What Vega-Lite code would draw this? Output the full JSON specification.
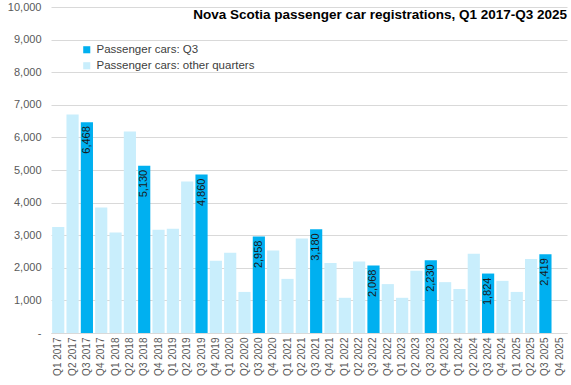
{
  "$schema": "https://vega.github.io/schema/vega-lite/v6.json",
  "width": 516,
  "height": 326,
  "autosize": "none",
  "padding": {"left": 51, "top": 7, "right": 4, "bottom": 52},
  "background": "white",
  "title": {
    "text": "Nova Scotia passenger car registrations, Q1 2017-Q3 2025",
    "anchor": "end",
    "frame": "group",
    "offset": -20,
    "font": "Liberation Sans",
    "fontSize": 13.5,
    "fontWeight": "bold",
    "color": "#000000"
  },
  "data": {
    "values": [
      {"quarter": "Q1 2017", "value": 3250, "series": "Passenger cars: other quarters"},
      {"quarter": "Q2 2017", "value": 6700, "series": "Passenger cars: other quarters"},
      {"quarter": "Q3 2017", "value": 6468, "series": "Passenger cars: Q3"},
      {"quarter": "Q4 2017", "value": 3850, "series": "Passenger cars: other quarters"},
      {"quarter": "Q1 2018", "value": 3080, "series": "Passenger cars: other quarters"},
      {"quarter": "Q2 2018", "value": 6180, "series": "Passenger cars: other quarters"},
      {"quarter": "Q3 2018", "value": 5130, "series": "Passenger cars: Q3"},
      {"quarter": "Q4 2018", "value": 3170, "series": "Passenger cars: other quarters"},
      {"quarter": "Q1 2019", "value": 3200, "series": "Passenger cars: other quarters"},
      {"quarter": "Q2 2019", "value": 4650, "series": "Passenger cars: other quarters"},
      {"quarter": "Q3 2019", "value": 4860, "series": "Passenger cars: Q3"},
      {"quarter": "Q4 2019", "value": 2220, "series": "Passenger cars: other quarters"},
      {"quarter": "Q1 2020", "value": 2460, "series": "Passenger cars: other quarters"},
      {"quarter": "Q2 2020", "value": 1260, "series": "Passenger cars: other quarters"},
      {"quarter": "Q3 2020", "value": 2958, "series": "Passenger cars: Q3"},
      {"quarter": "Q4 2020", "value": 2530, "series": "Passenger cars: other quarters"},
      {"quarter": "Q1 2021", "value": 1660, "series": "Passenger cars: other quarters"},
      {"quarter": "Q2 2021", "value": 2900, "series": "Passenger cars: other quarters"},
      {"quarter": "Q3 2021", "value": 3180, "series": "Passenger cars: Q3"},
      {"quarter": "Q4 2021", "value": 2150, "series": "Passenger cars: other quarters"},
      {"quarter": "Q1 2022", "value": 1080, "series": "Passenger cars: other quarters"},
      {"quarter": "Q2 2022", "value": 2190, "series": "Passenger cars: other quarters"},
      {"quarter": "Q3 2022", "value": 2068, "series": "Passenger cars: Q3"},
      {"quarter": "Q4 2022", "value": 1500, "series": "Passenger cars: other quarters"},
      {"quarter": "Q1 2023", "value": 1080, "series": "Passenger cars: other quarters"},
      {"quarter": "Q2 2023", "value": 1910, "series": "Passenger cars: other quarters"},
      {"quarter": "Q3 2023", "value": 2230, "series": "Passenger cars: Q3"},
      {"quarter": "Q4 2023", "value": 1560, "series": "Passenger cars: other quarters"},
      {"quarter": "Q1 2024", "value": 1350, "series": "Passenger cars: other quarters"},
      {"quarter": "Q2 2024", "value": 2430, "series": "Passenger cars: other quarters"},
      {"quarter": "Q3 2024", "value": 1824, "series": "Passenger cars: Q3"},
      {"quarter": "Q4 2024", "value": 1600, "series": "Passenger cars: other quarters"},
      {"quarter": "Q1 2025", "value": 1260, "series": "Passenger cars: other quarters"},
      {"quarter": "Q2 2025", "value": 2270, "series": "Passenger cars: other quarters"},
      {"quarter": "Q3 2025", "value": 2419, "series": "Passenger cars: Q3"},
      {"quarter": "Q4 2025", "value": null, "series": "Passenger cars: other quarters"}
    ]
  },
  "encoding": {
    "x": {
      "field": "quarter",
      "type": "ordinal",
      "sort": null,
      "scale": {
        "domain": ["Q1 2017", "Q2 2017", "Q3 2017", "Q4 2017", "Q1 2018", "Q2 2018", "Q3 2018", "Q4 2018", "Q1 2019", "Q2 2019", "Q3 2019", "Q4 2019", "Q1 2020", "Q2 2020", "Q3 2020", "Q4 2020", "Q1 2021", "Q2 2021", "Q3 2021", "Q4 2021", "Q1 2022", "Q2 2022", "Q3 2022", "Q4 2022", "Q1 2023", "Q2 2023", "Q3 2023", "Q4 2023", "Q1 2024", "Q2 2024", "Q3 2024", "Q4 2024", "Q1 2025", "Q2 2025", "Q3 2025", "Q4 2025"],
        "paddingInner": 0.15,
        "paddingOuter": 0.08
      },
      "axis": {
        "title": null,
        "labelAngle": -90,
        "labelAlign": "right",
        "labelBaseline": "middle",
        "labelFont": "Liberation Sans",
        "labelFontSize": 10,
        "labelColor": "#595959",
        "labelPadding": 4,
        "ticks": false,
        "domainColor": "#d9d9d9",
        "domainWidth": 1
      }
    },
    "y": {
      "field": "value",
      "type": "quantitative",
      "scale": {"domain": [0, 10000], "nice": false},
      "axis": {
        "title": null,
        "values": [0, 1000, 2000, 3000, 4000, 5000, 6000, 7000, 8000, 9000, 10000],
        "labelExpr": "datum.value === 0 ? '-' : format(datum.value, ',')",
        "labelOverlap": false,
        "labelFont": "Liberation Sans",
        "labelFontSize": 11,
        "labelColor": "#595959",
        "labelPadding": 10,
        "ticks": false,
        "domain": false,
        "gridColor": "#d9d9d9",
        "gridWidth": 1
      }
    }
  },
  "layer": [
    {
      "mark": {"type": "bar"},
      "encoding": {
        "color": {
          "field": "series",
          "type": "nominal",
          "scale": {
            "domain": ["Passenger cars: Q3", "Passenger cars: other quarters"],
            "range": ["#00B0F0", "#C9EEFC"]
          },
          "legend": {
            "title": null,
            "orient": "none",
            "legendX": 30,
            "legendY": 37,
            "symbolType": "square",
            "symbolSize": 50,
            "symbolStrokeWidth": 0,
            "labelFont": "Liberation Sans",
            "labelFontSize": 11.5,
            "labelColor": "#404040",
            "rowPadding": 3,
            "labelOffset": 4
          }
        }
      }
    },
    {
      "transform": [{"filter": "datum.series === 'Passenger cars: Q3'"}],
      "mark": {
        "type": "text",
        "angle": 270,
        "align": "right",
        "baseline": "middle",
        "dx": -4,
        "font": "Liberation Sans",
        "fontSize": 11,
        "color": "#1a1a1a"
      },
      "encoding": {
        "text": {"field": "value", "type": "quantitative", "format": ","}
      }
    }
  ],
  "config": {
    "view": {"stroke": null}
  }
}
